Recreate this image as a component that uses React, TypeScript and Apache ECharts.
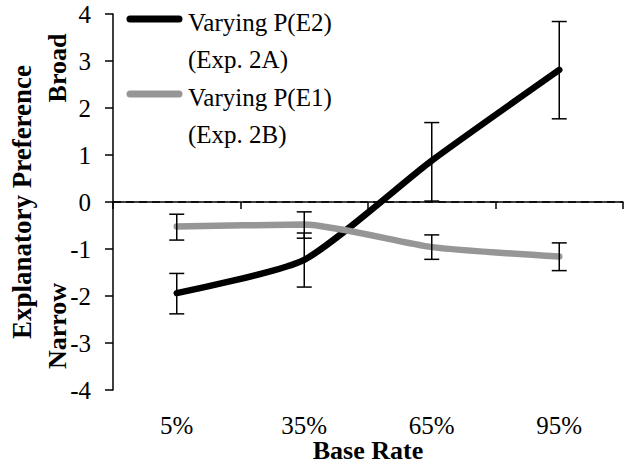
import React, { useEffect, useRef } from "react";
import * as echarts from "echarts";

const categories = ["5%", "35%", "65%", "95%"];
const e2Name = "Varying P(E2)\n(Exp. 2A)";
const e1Name = "Varying P(E1)\n(Exp. 2B)";
const e2Values = [-1.94, -1.23, 0.88, 2.81];
const e2Low = [-2.38, -1.81, 0.02, 1.77];
const e2High = [-1.52, -0.66, 1.69, 3.84];
const e1Values = [-0.52, -0.48, -0.96, -1.16];
const e1Low = [-0.81, -0.77, -1.22, -1.46];
const e1High = [-0.26, -0.21, -0.70, -0.87];
const yTicks = { min: -4, max: 4, interval: 1 };

const FONT = "'Liberation Serif', 'Times New Roman', serif";
const E2_COLOR = "#000";
const E1_COLOR = "#969696";

function errorSeries(low: number[], high: number[], z: number) {
  return {
    type: "custom",
    z,
    silent: true,
    data: low.map((lo, i) => [i, lo, high[i]]),
    encode: { x: 0, y: [1, 2] },
    renderItem: (params: any, api: any) => {
      const i = api.value(0);
      const lo = api.coord([i, api.value(1)]);
      const hi = api.coord([i, api.value(2)]);
      const cap = 7.5;
      const style = { stroke: "#000", lineWidth: 1.5 };
      return {
        type: "group",
        children: [
          { type: "line", shape: { x1: lo[0], y1: lo[1], x2: hi[0], y2: hi[1] }, style },
          { type: "line", shape: { x1: lo[0] - cap, y1: lo[1], x2: lo[0] + cap, y2: lo[1] }, style },
          { type: "line", shape: { x1: hi[0] - cap, y1: hi[1], x2: hi[0] + cap, y2: hi[1] }, style },
        ],
      };
    },
  };
}

function legendEntry(name: string, color: string, y: number) {
  return [
    {
      type: "line",
      shape: { x1: 130, y1: y, x2: 179, y2: y },
      style: { stroke: color, lineWidth: 7, lineCap: "round" },
      z: 10,
    },
    {
      type: "text",
      x: 188,
      y: y - 15,
      style: {
        text: name,
        font: `25px ${FONT}`,
        lineHeight: 37,
        fill: "#000",
        textAlign: "left",
        textVerticalAlign: "top",
      },
      z: 10,
    },
  ];
}

export default function App() {
  const ref = useRef<HTMLDivElement>(null);
  useEffect(() => {
    document.body.style.margin = "0";
    const chart = echarts.init(ref.current!, null, { renderer: "svg" });
    chart.setOption({
      animation: false,
      backgroundColor: "#fff",
      textStyle: { fontFamily: FONT },
      grid: { left: 113, right: 3, top: 14, bottom: 73, containLabel: false, outerBoundsMode: "none" },
      xAxis: {
        type: "category",
        data: categories,
        boundaryGap: true,
        name: "Base Rate",
        nameLocation: "middle",
        nameGap: 47,
        nameMoveOverlap: false,
        nameTextStyle: { fontFamily: FONT, fontSize: 26, fontWeight: "bold", color: "#000" },
        axisLine: { lineStyle: { color: "#000", width: 1.5 } },
        axisTick: { show: true, inside: false, length: 7, lineStyle: { color: "#000", width: 1.5 } },
        axisLabel: { fontFamily: FONT, fontSize: 25, color: "#000", margin: 23 },
        splitLine: { show: false },
      },
      yAxis: {
        type: "value",
        min: yTicks.min,
        max: yTicks.max,
        interval: yTicks.interval,
        name: "Explanatory Preference",
        nameLocation: "middle",
        nameRotate: 90,
        nameGap: 78,
        nameMoveOverlap: false,
        nameTextStyle: { fontFamily: FONT, fontSize: 27, fontWeight: "bold", color: "#000" },
        axisLine: { show: true, lineStyle: { color: "#000", width: 1.5 } },
        axisTick: { show: true, inside: false, length: 8, lineStyle: { color: "#000", width: 1.5 } },
        axisLabel: { fontFamily: FONT, fontSize: 25, color: "#000", margin: 22 },
        splitLine: { show: false },
      },
      graphic: [
        ...legendEntry(e2Name, E2_COLOR, 19),
        ...legendEntry(e1Name, E1_COLOR, 94),
        {
          type: "text",
          x: 57,
          y: 68,
          rotation: Math.PI / 2,
          style: {
            text: "Broad",
            font: `bold 26px ${FONT}`,
            fill: "#000",
            textAlign: "center",
            textVerticalAlign: "middle",
          },
        },
        {
          type: "text",
          x: 57,
          y: 326,
          rotation: Math.PI / 2,
          style: {
            text: "Narrow",
            font: `bold 26px ${FONT}`,
            fill: "#000",
            textAlign: "center",
            textVerticalAlign: "middle",
          },
        },
      ],
      series: [
        {
          name: e2Name,
          type: "line",
          data: e2Values,
          smooth: 0.2,
          symbol: "none",
          color: E2_COLOR,
          lineStyle: { color: E2_COLOR, width: 6.5, cap: "round" },
          z: 2,
          markLine: {
            silent: true,
            symbol: ["none", "none"],
            label: { show: false },
            lineStyle: { color: "#000", width: 1.5, type: [8, 5] },
            data: [{ yAxis: 0 }],
          },
        },
        errorSeries(e2Low, e2High, 4),
        {
          name: e1Name,
          type: "line",
          data: e1Values,
          smooth: 0.2,
          symbol: "none",
          color: E1_COLOR,
          lineStyle: { color: E1_COLOR, width: 6.5, cap: "round" },
          z: 3,
        },
        errorSeries(e1Low, e1High, 4),
      ],
    });
    return () => chart.dispose();
  }, []);
  return <div ref={ref} style={{ width: 626, height: 463 }} />;
}
